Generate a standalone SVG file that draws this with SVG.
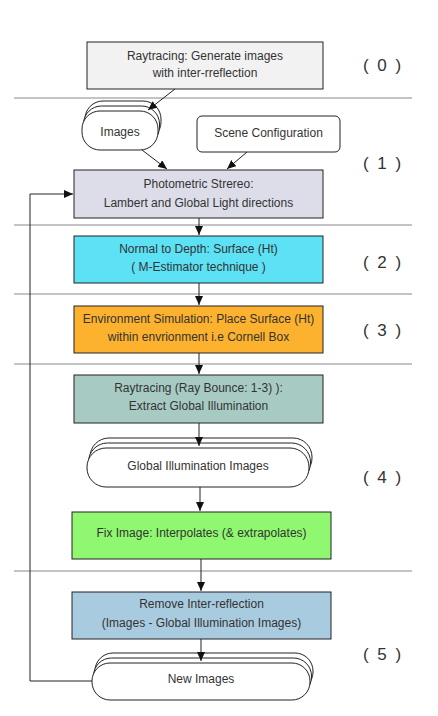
<svg xmlns="http://www.w3.org/2000/svg" width="438" height="716" viewBox="0 0 438 716">
<style>
text{font-family:"Liberation Sans",Arial,sans-serif;font-size:12px;fill:#333;text-anchor:middle}
.lab{font-size:17px;letter-spacing:2px}
.box{stroke:#222;stroke-width:1}
.pill{fill:#fff;stroke:#222;stroke-width:1}
.sep{stroke:#888;stroke-width:1}
.con{fill:none;stroke:#222;stroke-width:1;marker-end:url(#ah)}
</style>
<defs>
<marker id="ah" markerWidth="10" markerHeight="10" refX="9" refY="4" orient="auto" markerUnits="userSpaceOnUse">
<path d="M0,0 L9,4 L0,8 Z" fill="#111"/>
</marker>
</defs>
<rect width="438" height="716" fill="#fff"/>
<g id="separators">
<line class="sep" x1="14" y1="98" x2="412" y2="98"/>
<line class="sep" x1="14" y1="225" x2="412" y2="225"/>
<line class="sep" x1="14" y1="294" x2="412" y2="294"/>
<line class="sep" x1="14" y1="364" x2="412" y2="364"/>
<line class="sep" x1="14" y1="571" x2="412" y2="571"/>
</g>
<g id="stage-labels">
<text class="lab" x="383" y="71">( 0 )</text>
<text class="lab" x="383" y="169">( 1 )</text>
<text class="lab" x="383" y="268">( 2 )</text>
<text class="lab" x="383" y="336">( 3 )</text>
<text class="lab" x="383" y="483">( 4 )</text>
<text class="lab" x="383" y="660">( 5 )</text>
</g>
<g id="n0">
<rect class="box" x="87" y="42" width="236" height="47" fill="#f2f2f2"/>
<text x="205" y="60">Raytracing: Generate images</text>
<text x="205" y="77">with inter-rreflection</text>
</g>
<g id="images">
<rect class="pill" x="85" y="101" width="76" height="39" rx="18"/>
<rect class="pill" x="83.5" y="106" width="76" height="39" rx="18"/>
<rect class="pill" x="82" y="111" width="76" height="39" rx="18"/>
<text x="120" y="136">Images</text>
</g>
<g id="scene">
<rect class="box" x="197" y="116" width="143" height="36" rx="5" fill="#fff"/>
<text x="268.5" y="137">Scene Configuration</text>
</g>
<g id="n1">
<rect class="box" x="74" y="170" width="249" height="48" fill="#dcdde9"/>
<text x="198.5" y="188">Photometric Strereo:</text>
<text x="198.5" y="207">Lambert and Global Light directions</text>
</g>
<g id="n2">
<rect class="box" x="74" y="236" width="249" height="47" fill="#5ce1f5"/>
<text x="198.5" y="253">Normal to Depth: Surface (Ht)</text>
<text x="198.5" y="271">( M-Estimator technique )</text>
</g>
<g id="n3">
<rect class="box" x="74" y="306" width="249" height="47" fill="#fdb22f"/>
<text x="198.5" y="323">Environment Simulation: Place Surface (Ht)</text>
<text x="198.5" y="341">within envrionment i.e Cornell Box</text>
</g>
<g id="n4a">
<rect class="box" x="74" y="375" width="249" height="48" fill="#a7cbc3"/>
<text x="198.5" y="392">Raytracing (Ray Bounce: 1-3) ):</text>
<text x="198.5" y="410">Extract Global Illumination</text>
</g>
<g id="gi-images">
<rect class="pill" x="90" y="438" width="222" height="39" rx="19"/>
<rect class="pill" x="88.5" y="443" width="222" height="39" rx="19"/>
<rect class="pill" x="87" y="448" width="222" height="39" rx="19"/>
<text x="198" y="470">Global Illumination Images</text>
</g>
<g id="n4b">
<rect class="box" x="72" y="512" width="259" height="47" fill="#8ff870"/>
<text x="201.5" y="537">Fix Image: Interpolates (&amp; extrapolates)</text>
</g>
<g id="n5">
<rect class="box" x="72" y="592" width="259" height="47" fill="#a9cbdf"/>
<text x="201.5" y="608">Remove Inter-reflection</text>
<text x="201.5" y="627">(Images - Global Illumination Images)</text>
</g>
<g id="new-images">
<rect class="pill" x="95" y="653" width="218" height="37" rx="18"/>
<rect class="pill" x="93.5" y="658" width="218" height="37" rx="18"/>
<rect class="pill" x="92" y="663" width="218" height="37" rx="18"/>
<text x="201" y="683">New Images</text>
</g>
<g id="connectors">
<path class="con" d="M175,89 L148,110"/>
<path class="con" d="M142,150 L167,169"/>
<path class="con" d="M247,152 L227,169"/>
<path class="con" d="M199,218 L199,235"/>
<path class="con" d="M199,283 L199,305"/>
<path class="con" d="M199,353 L199,374"/>
<path class="con" d="M199,423 L199,446"/>
<path class="con" d="M200,487 L200,511"/>
<path class="con" d="M201,559 L201,591"/>
<path class="con" d="M201,639 L201,661"/>
<path class="con" d="M92,681 L30,681 L30,194 L73,194"/>
</g>
</svg>
